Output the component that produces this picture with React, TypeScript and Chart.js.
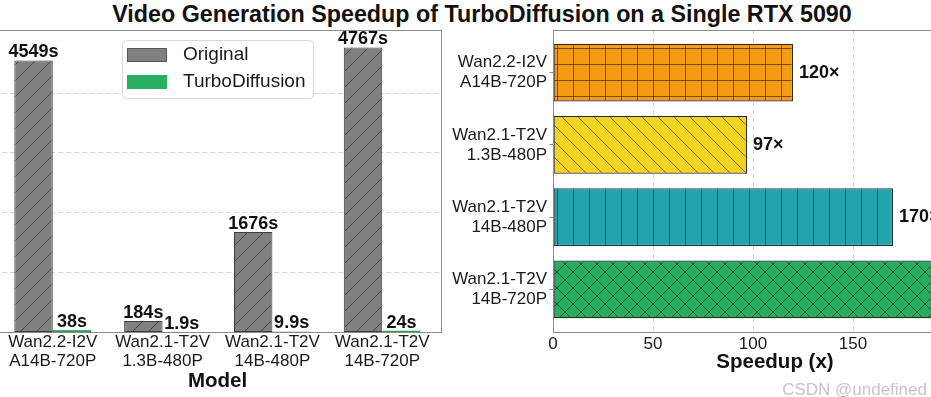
import React, { useEffect, useRef } from 'react';
import { Chart, registerables } from 'chart.js';
Chart.register(...registerables);

const FONT = "'Liberation Sans', Arial, Helvetica, sans-serif";

// ---- data ----
const titleText = 'Video Generation Speedup of TurboDiffusion on a Single RTX 5090';
const modelLabels: string[][] = [
  ['Wan2.2-I2V', 'A14B-720P'],
  ['Wan2.1-T2V', '1.3B-480P'],
  ['Wan2.1-T2V', '14B-480P'],
  ['Wan2.1-T2V', '14B-720P'],
];
const originalSeconds = [4549, 184, 1676, 4767];
const turboSeconds = [38, 1.9, 9.9, 24];
const timeGridTicks = [1000, 2000, 3000, 4000];
const speedupValues = [120, 97, 170, 199];
const speedupTicks = [0, 50, 100, 150, 200];
const seriesNames = ['Original', 'TurboDiffusion'];

// ---- styles ----
const GRAY = '#808080';
const GREEN = '#27ae60';
const ORANGE = '#f49a14';
const YELLOW = '#f4d31f';
const TEAL = '#22a4ae';
const SPINE = '#8a8a8a';
const GRID = 'rgba(0,0,0,0.17)';
const TEXT = '#1a1a1a';
const LEFT_OFFSET = 16;

function makeHatch(ctx: CanvasRenderingContext2D, bg: string, kind: string, size = 16, line = 'rgba(0,0,0,0.5)') {
  const c = document.createElement('canvas');
  c.width = size;
  c.height = size;
  const g = c.getContext('2d')!;
  g.fillStyle = bg;
  g.fillRect(0, 0, size, size);
  g.strokeStyle = line;
  g.lineWidth = 1;
  g.beginPath();
  for (const k of [-1, 0, 1]) {
    if (kind.includes('/') || kind.includes('x')) {
      g.moveTo(k * size, size);
      g.lineTo(k * size + size, 0);
    }
    if (kind.includes('\\') || kind.includes('x')) {
      g.moveTo(k * size, 0);
      g.lineTo(k * size + size, size);
    }
  }
  if (kind.includes('|') || kind.includes('+')) {
    g.moveTo(0.5, 0);
    g.lineTo(0.5, size);
  }
  if (kind.includes('-') || kind.includes('+')) {
    g.moveTo(0, 0.5);
    g.lineTo(size, 0.5);
  }
  g.stroke();
  return ctx.createPattern(c, 'repeat')!;
}

const leftPlugin = {
  id: 'leftDecor',
  afterDatasetsDraw(chart: any) {
    const ctx = chart.ctx as CanvasRenderingContext2D;
    const a = chart.chartArea;
    ctx.save();
    // value labels
    ctx.font = `bold 18px ${FONT}`;
    ctx.fillStyle = '#111';
    ctx.textAlign = 'center';
    ctx.textBaseline = 'alphabetic';
    [originalSeconds, turboSeconds].forEach((arr, di) => {
      const meta = chart.getDatasetMeta(di);
      meta.data.forEach((el: any, i: number) => {
        const p = el.getProps(['x', 'y'], true);
        ctx.fillText(`${arr[i]}s`, p.x, p.y - 3);
      });
    });
    // spines
    ctx.strokeStyle = SPINE;
    ctx.lineWidth = 1;
    ctx.strokeRect(Math.round(a.left) + 0.5, Math.round(a.top) + 0.5, Math.round(a.right - a.left), Math.round(a.bottom - a.top));
    // legend
    const bx = 122 + LEFT_OFFSET, by = 40, bw = 191, bh = 58;
    ctx.fillStyle = 'rgba(255,255,255,0.9)';
    ctx.strokeStyle = '#d9d9d9';
    ctx.beginPath();
    (ctx as any).roundRect(bx + 0.5, by + 0.5, bw, bh, 4);
    ctx.fill();
    ctx.stroke();
    const swatches = [GRAY, GREEN];
    const edges = ['#555', GREEN];
    const rows = [55, 82];
    ctx.font = `19px ${FONT}`;
    ctx.textAlign = 'left';
    ctx.textBaseline = 'middle';
    seriesNames.forEach((name, i) => {
      ctx.fillStyle = swatches[i];
      ctx.fillRect(127 + LEFT_OFFSET, rows[i] - 7, 40, 14);
      ctx.strokeStyle = edges[i];
      ctx.strokeRect(127 + LEFT_OFFSET + 0.5, rows[i] - 7 + 0.5, 39, 13);
      ctx.fillStyle = TEXT;
      ctx.fillText(name, 183 + LEFT_OFFSET, rows[i]);
    });
    ctx.restore();
  },
};

const rightPlugin = {
  id: 'rightDecor',
  afterDatasetsDraw(chart: any) {
    const ctx = chart.ctx as CanvasRenderingContext2D;
    const a = chart.chartArea;
    ctx.save();
    ctx.font = `bold 18px ${FONT}`;
    ctx.fillStyle = '#111';
    ctx.textAlign = 'left';
    ctx.textBaseline = 'middle';
    const meta = chart.getDatasetMeta(0);
    meta.data.forEach((el: any, i: number) => {
      const p = el.getProps(['x', 'y'], true);
      ctx.fillText(`${speedupValues[i]}×`, p.x + 6, p.y);
    });
    ctx.strokeStyle = SPINE;
    ctx.lineWidth = 1;
    ctx.strokeRect(Math.round(a.left) + 0.5, Math.round(a.top) + 0.5, Math.round(a.right - a.left), Math.round(a.bottom - a.top));
    ctx.restore();
  },
};

export default function App() {
  const leftRef = useRef<HTMLCanvasElement>(null);
  const rightRef = useRef<HTMLCanvasElement>(null);

  useEffect(() => {
    const lc = leftRef.current!;
    const rc = rightRef.current!;
    const lctx = lc.getContext('2d')!;
    const rctx = rc.getContext('2d')!;

    const grayHatch = makeHatch(lctx, GRAY, '/', 16, 'rgba(0,0,0,0.45)');
    const rightPatterns = [
      makeHatch(rctx, ORANGE, '+'),
      makeHatch(rctx, YELLOW, '\\'),
      makeHatch(rctx, TEAL, '|'),
      makeHatch(rctx, GREEN, 'x'),
    ];

    const left = new Chart(lc, {
      type: 'bar',
      data: {
        datasets: [
          {
            label: seriesNames[0],
            data: originalSeconds.map((v, i) => ({ x: i, y: v })),
            backgroundColor: grayHatch,
            borderColor: '#3c3c3c',
            borderWidth: 1,
            borderSkipped: false,
            categoryPercentage: 0.7,
            barPercentage: 1,
          },
          {
            label: seriesNames[1],
            data: turboSeconds.map((v, i) => ({ x: i, y: v })),
            backgroundColor: GREEN,
            borderColor: '#23a055',
            borderWidth: 1,
            borderSkipped: false,
            categoryPercentage: 0.7,
            barPercentage: 1,
          },
        ],
      } as any,
      options: {
        responsive: false,
        animation: false,
        devicePixelRatio: 1,
        layout: { padding: { left: 10, top: 30, right: 3, bottom: 0 } },
        plugins: { legend: { display: false }, tooltip: { enabled: false } },
        scales: {
          x: {
            type: 'linear',
            offset: false,
            min: -0.535,
            max: 3.535,
            afterBuildTicks: (s: any) => {
              s.ticks = modelLabels.map((_, i) => ({ value: i }));
            },
            afterFit: (s: any) => {
              s.height = 65;
            },
            grid: { display: false, offset: false, drawTicks: false },
            border: { display: false },
            ticks: {
              autoSkip: false,
              maxRotation: 0,
              minRotation: 0,
              padding: 1,
              color: TEXT,
              font: { family: FONT, size: 17, lineHeight: 1.12 },
              callback: (v: any) => modelLabels[v] ?? '',
            },
            title: {
              display: true,
              text: 'Model',
              color: '#111',
              font: { family: FONT, size: 20.5, weight: 'bold', lineHeight: 1.2 },
              padding: { top: 0, bottom: 3.7 },
            },
          },
          y: {
            type: 'linear',
            min: 0,
            max: 5060,
            afterBuildTicks: (s: any) => {
              s.ticks = timeGridTicks.map((value) => ({ value }));
            },
            afterFit: (s: any) => {
              s.width = 0;
            },
            ticks: { display: false },
            grid: { color: GRID, lineWidth: 1, drawTicks: false },
            border: { display: false, dash: [5, 3] },
          },
        },
      } as any,
      plugins: [leftPlugin],
    });

    const right = new Chart(rc, {
      type: 'bar',
      data: {
        datasets: [
          {
            label: 'Speedup',
            data: speedupValues.map((v, i) => ({ x: v, y: i })),
            backgroundColor: rightPatterns,
            borderColor: '#2a2a2a',
            borderWidth: 1.3,
            borderSkipped: false,
            categoryPercentage: 1,
            barPercentage: 0.8,
          },
        ],
      } as any,
      options: {
        indexAxis: 'y',
        responsive: false,
        animation: false,
        devicePixelRatio: 1,
        layout: { padding: { left: 0, top: 30, right: 8, bottom: 0 } },
        plugins: { legend: { display: false }, tooltip: { enabled: false } },
        scales: {
          x: {
            type: 'linear',
            min: 0,
            max: 222,
            afterBuildTicks: (s: any) => {
              s.ticks = speedupTicks.map((value) => ({ value }));
            },
            afterFit: (s: any) => {
              s.height = 65;
            },
            grid: { color: GRID, lineWidth: 1, drawTicks: false },
            border: { display: false, dash: [5, 3] },
            ticks: {
              autoSkip: false,
              maxRotation: 0,
              minRotation: 0,
              padding: 2,
              color: TEXT,
              font: { family: FONT, size: 17, lineHeight: 1.2 },
            },
            title: {
              display: true,
              text: 'Speedup (x)',
              color: '#111',
              font: { family: FONT, size: 20.5, weight: 'bold', lineHeight: 1.2 },
              padding: { top: 0, bottom: 22.7 },
            },
          },
          y: {
            type: 'linear',
            offset: false,
            reverse: true,
            min: -0.59,
            max: 3.59,
            afterBuildTicks: (s: any) => {
              s.ticks = modelLabels.map((_, i) => ({ value: i }));
            },
            afterFit: (s: any) => {
              s.width = 108;
            },
            grid: {
              offset: false,
              drawOnChartArea: false,
              drawTicks: true,
              tickLength: 3.5,
              color: SPINE,
              tickColor: SPINE,
            },
            border: { display: false },
            ticks: {
              autoSkip: false,
              padding: 2.5,
              color: TEXT,
              font: { family: FONT, size: 17, lineHeight: 1.18 },
              callback: (v: any) => modelLabels[v] ?? '',
            },
          },
        },
      } as any,
      plugins: [rightPlugin],
    });

    return () => {
      left.destroy();
      right.destroy();
    };
  }, []);

  return (
    <div
      style={{
        position: 'fixed',
        left: 0,
        top: 0,
        width: 931,
        height: 397,
        overflow: 'hidden',
        background: '#fff',
      }}
    >
      <div
        style={{
          position: 'absolute',
          left: 0,
          top: 0,
          width: 964,
          textAlign: 'center',
          font: `bold 23.3px ${FONT}`,
          lineHeight: '29px',
          color: '#111',
          whiteSpace: 'nowrap',
        }}
      >
        {titleText}
      </div>
      <canvas
        ref={leftRef}
        width={460}
        height={397}
        style={{ position: 'absolute', left: -LEFT_OFFSET, top: 0, width: 460, height: 397 }}
      />
      <canvas
        ref={rightRef}
        width={560}
        height={397}
        style={{ position: 'absolute', left: 445, top: 0, width: 560, height: 397 }}
      />
      <div
        style={{
          position: 'absolute',
          right: 4,
          top: 380,
          font: `17px ${FONT}`,
          lineHeight: '20px',
          color: '#c4c4c4',
          whiteSpace: 'nowrap',
        }}
      >
        CSDN @undefined
      </div>
    </div>
  );
}
